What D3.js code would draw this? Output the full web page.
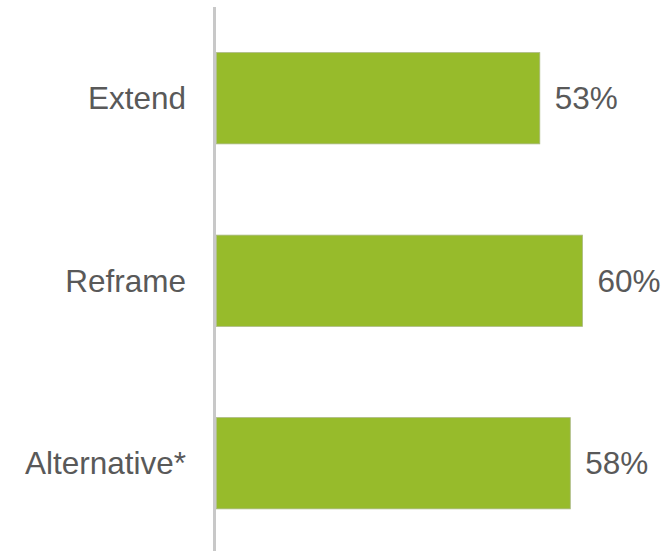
<!DOCTYPE html>
<html>
<head>
<meta charset="utf-8">
<script src="https://cdn.jsdelivr.net/npm/d3@7"></script>
<style>
    body { margin: 0; background: #fff; }
    text { font-family: "Liberation Sans", Arial, sans-serif; }
</style>
</head>
<body>
<div id="chart"></div>
<script>
// Chart data
const categories = ['Extend', 'Reframe', 'Alternative*'];
const values = [53, 60, 58];

const width = 667, height = 551;

const svg = d3.select('#chart')
    .append('svg')
    .attr('width', width)
    .attr('height', height);

// Scales
const x = d3.scaleLinear()
    .domain([0, 100])
    .range([216.5, 826.5]);

const y = d3.scaleBand()
    .domain(categories)
    .range([7, 554.5])
    .paddingInner(0.5)
    .paddingOuter(0.25);

// Bars
svg.selectAll('.bar')
    .data(values)
    .join('rect')
    .attr('class', 'bar')
    .attr('x', x(0))
    .attr('y', (d, i) => y(categories[i]))
    .attr('width', d => x(d) - x(0))
    .attr('height', y.bandwidth())
    .attr('fill', '#97bb2b')
    .attr('stroke', '#aab883')
    .attr('stroke-width', 0.8);

// Vertical axis line
svg.append('line')
    .attr('x1', 214.5)
    .attr('x2', 214.5)
    .attr('y1', 7)
    .attr('y2', height)
    .attr('stroke', '#c8c8c8')
    .attr('stroke-width', 3);

// Category labels
svg.selectAll('.catLabel')
    .data(categories)
    .join('text')
    .attr('class', 'catLabel')
    .attr('x', 186)
    .attr('y', d => y(d) + y.bandwidth() / 2)
    .attr('dy', '0.35em')
    .attr('text-anchor', 'end')
    .attr('font-size', 31.5)
    .attr('fill', '#595959')
    .text(d => d);

// Value labels
svg.selectAll('.valLabel')
    .data(values)
    .join('text')
    .attr('class', 'valLabel')
    .attr('x', d => x(d) + 15)
    .attr('y', (d, i) => y(categories[i]) + y.bandwidth() / 2)
    .attr('dy', '0.35em')
    .attr('font-size', 31.5)
    .attr('fill', '#595959')
    .text(d => d + '%');
</script>
</body>
</html>
